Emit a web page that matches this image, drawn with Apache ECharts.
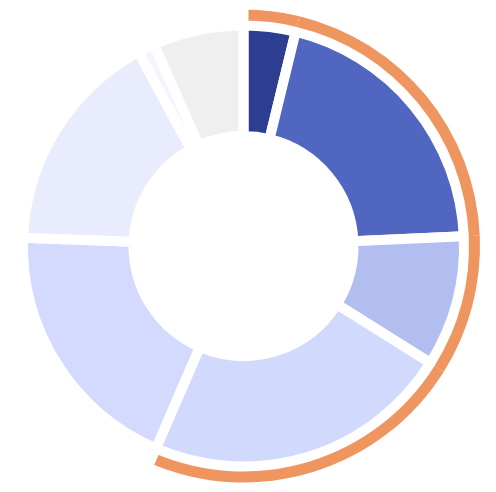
<!DOCTYPE html>
<html>
<head>
<meta charset="utf-8">
<script src="https://cdn.jsdelivr.net/npm/echarts@6/dist/echarts.min.js"></script>
<style>html,body{margin:0;padding:0;background:#fff;}#c{width:496px;height:492px;}</style>
</head>
<body>
<div id="c"></div>
<script>
var categories = ['A', 'B', 'C', 'D', 'E', 'F', 'G', 'H'];
var values = [3.8, 20.5, 9.6, 22.6, 19.1, 16.5, 1.25, 6.65];
var colors = ['#2d3e92', '#5166c1', '#b2bdf0', '#d1d9fd', '#d3dafd', '#e8ecfd', '#f3f5fe', '#efefef'];
var highlighted = [true, true, true, true, false, false, false, false];
var ringColor = '#ef9560';

var innerData = categories.map(function (c, i) {
  return { name: c, value: values[i], itemStyle: { color: colors[i] } };
});
var restSum = 0;
var ringData = [];
categories.forEach(function (c, i) {
  if (highlighted[i]) {
    ringData.push({ name: c, value: values[i], itemStyle: { color: ringColor, borderWidth: 0 } });
  } else {
    restSum += values[i];
  }
});
ringData.push({ name: 'rest', value: restSum, itemStyle: { color: 'rgba(0,0,0,0)', borderColor: '#ffffff', borderWidth: 10 } });

var chart = echarts.init(document.getElementById('c'), null, { renderer: 'canvas' });
chart.setOption({
  animation: false,
  series: [
    {
      type: 'pie',
      center: [243.5, 246],
      radius: [110, 220.5],
      startAngle: 90,
      clockwise: true,
      silent: true,
      label: { show: false },
      labelLine: { show: false },
      itemStyle: { borderColor: '#ffffff', borderWidth: 10 },
      data: innerData
    },
    {
      type: 'pie',
      center: [243.5, 246],
      radius: [225.5, 236.5],
      startAngle: 90,
      clockwise: true,
      silent: true,
      label: { show: false },
      labelLine: { show: false },
      data: ringData
    }
  ]
});
</script>
</body>
</html>
